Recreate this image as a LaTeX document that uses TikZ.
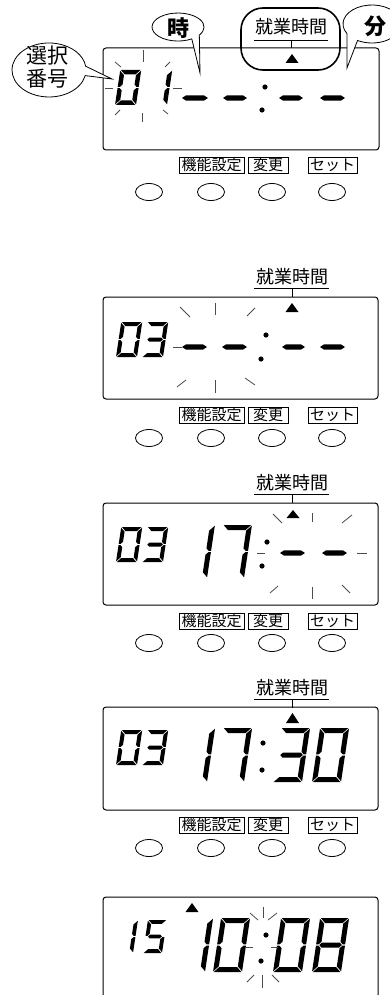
\documentclass[tikz,border=0pt]{standalone}
\usepackage{fontspec}
\newfontfamily\jp{Noto Sans CJK JP}
\usetikzlibrary{shapes.geometric}
\tikzset{
  lcd/.style={draw=black,line width=1pt,rounded corners=3pt},
  ray/.style={draw=black!70,line width=0.8pt},
  seg/.style={fill=black},
  lbl/.style={draw=black,line width=0.7pt,font=\jp\fontsize{15}{15}\selectfont,inner xsep=1pt,inner ysep=0.5pt,minimum height=16pt},
  btn/.style={draw=black,line width=0.8pt,ellipse,minimum width=27pt,minimum height=17pt,inner sep=0pt},
  hdr/.style={font=\jp\fontsize{18}{18}\selectfont,inner sep=0pt},
  bub/.style={draw=black,fill=white,line width=0.8pt},
  tri/.style={fill=black},
  cdot/.style={fill=black}
}
\def\gp{0.7}
\newcommand\sgA{\fill[seg] (\gp,-\dH) -- ({\dW-\gp},-\dH) -- ({\dW-\dT-\gp},{-\dH+\dT}) -- ({\dT+\gp},{-\dH+\dT}) -- cycle;}
\newcommand\sgB{\fill[seg] (\dW,{-\dH+\gp}) -- ({\dW-\dT},{-\dH+\dT+\gp}) -- ({\dW-\dT},{-\dHh-\dTh-\gp}) -- ({\dW-\dTh},{-\dHh-\gp}) -- (\dW,{-\dHh-\gp}) -- cycle;}
\newcommand\sgC{\fill[seg] (\dW,{-\dHh+\gp}) -- ({\dW-\dTh},{-\dHh+\gp}) -- ({\dW-\dT},{-\dHh+\dTh+\gp}) -- ({\dW-\dT},{-\dT-\gp}) -- (\dW,-\gp) -- cycle;}
\newcommand\sgD{\fill[seg] (\gp,0) -- ({\dT+\gp},-\dT) -- ({\dW-\dT-\gp},-\dT) -- ({\dW-\gp},0) -- cycle;}
\newcommand\sgE{\fill[seg] (0,{-\dHh+\gp}) -- (\dTh,{-\dHh+\gp}) -- (\dT,{-\dHh+\dTh+\gp}) -- (\dT,{-\dT-\gp}) -- (0,-\gp) -- cycle;}
\newcommand\sgF{\fill[seg] (0,{-\dH+\gp}) -- (\dT,{-\dH+\dT+\gp}) -- (\dT,{-\dHh-\dTh-\gp}) -- (\dTh,{-\dHh-\gp}) -- (0,{-\dHh-\gp}) -- cycle;}
\newcommand\sgG{\fill[seg] ({\dTh+\gp},-\dHh) -- ({\dT+\gp},{-\dHh-\dTh}) -- ({\dW-\dT-\gp},{-\dHh-\dTh}) -- ({\dW-\dTh-\gp},-\dHh) -- ({\dW-\dT-\gp},{-\dHh+\dTh}) -- ({\dT+\gp},{-\dHh+\dTh}) -- cycle;}
\newcommand\dgt[6]{\begin{scope}[shift={(#1,#2)},xslant=0.15]\def\dW{#3}\def\dH{#4}\def\dT{#5}\pgfmathsetmacro\dHh{#4/2}\pgfmathsetmacro\dTh{#5/2}#6\end{scope}}
\newcommand\dsh[3]{\fill[seg] (#1,#3) -- ({#1+4},{#3-2.6}) -- ({#2-4},{#3-2.6}) -- (#2,#3) -- ({#2-4},{#3+2.6}) -- ({#1+4},{#3+2.6}) -- cycle;}
\newcommand\trisym[3]{\fill[tri] ({#1-6.5},#2) -- ({#1+6.5},#2) -- (#1,#3) -- cycle;}
\newcommand\btnrow[3]{%
  \node[lbl,minimum width=65pt] (#3k) at (211.5,#1) {機能設定};
  \node[lbl,minimum width=40pt] (#3h) at (268,#1) {変更};
  \node[lbl,minimum width=49pt] (#3s) at (332.5,#1) {セット};
  \node[btn] (#3b1) at (149,#2) {};
  \node[btn] (#3b2) at (211,#2) {};
  \node[btn] (#3b3) at (272,#2) {};
  \node[btn] (#3b4) at (332,#2) {};}
\newcommand\header[2]{%
  \node[hdr] (#2) at (292,#1) {就業時間};
  \coordinate (#2l) at (254,{#1+11});
  \coordinate (#2r) at (329,{#1+11});
  \coordinate (#2m) at (292,{#1+11});
  \coordinate (#2t) at (292,{#1+20});
  \draw[line width=0.8pt] (#2l) -- (#2r);
  \draw[line width=0.8pt] (#2m) -- (#2t);}
\begin{document}
\begin{tikzpicture}[x=1pt,y=-1pt]
\clip (0,0) rectangle (390,995);
\fill[white] (0,0) rectangle (390,995);

% ---------------- Panel 1
\draw[lcd] (103,48) rectangle (379,150);
\dgt{115}{105}{21}{35}{4.5}{\sgA\sgB\sgC\sgD\sgE\sgF}
\dgt{146}{105}{21}{35}{4.5}{\sgB\sgC}
\dsh{182}{208}{98}\dsh{223}{247}{98}\dsh{279}{303}{98}\dsh{320}{345}{98}
\fill[cdot] (265,87) circle (2.6);
\fill[cdot] (262,110) circle (2.6);
\draw[ray] (143,50) -- (143,62);
\draw[ray] (142,113) -- (142,122);
\draw[ray] (105,88) -- (113,88);
\draw[ray] (173,88) -- (182,88);
\draw[ray] (115,62) -- (121,67);
\draw[ray] (165,67) -- (170,62);
\draw[ray] (115,115) -- (120,110);
\draw[ray] (163,110) -- (168,114);
\trisym{292}{63}{54}
% bubbles
\filldraw[bub] (112,79) -- (85.2,75.6) arc[start angle=12,end angle=352,x radius=37,y radius=27] -- cycle;
\filldraw[bub] (200,73) -- (191.8,38.9) arc[start angle=58,end angle=395,x radius=26,y radius=14] -- cycle;
\filldraw[bub] (347,68) -- (346.9,33.5) arc[start angle=150,end angle=480,x radius=29,y radius=19] -- cycle;
\draw[line width=1.6pt,rounded corners=22pt] (241,8) rectangle (340,70);
\node[font=\jp\fontsize{21}{23}\selectfont,align=center,inner sep=0pt] (sel) at (48,67) {選択\\番号};
\node[font=\jp\bfseries\fontsize{22}{22}\selectfont,inner sep=0pt] (ji) at (178,28) {時};
\node[font=\jp\bfseries\fontsize{22}{22}\selectfont,inner sep=0pt] (fun) at (375,26) {分};
\node[hdr] (hd1) at (291,27) {就業時間};
\coordinate (hd1l) at (254,40); \coordinate (hd1r) at (328,40);
\coordinate (hd1m) at (291,40); \coordinate (hd1t) at (291,48);
\draw[line width=0.8pt] (hd1l) -- (hd1r);
\draw[line width=0.8pt] (hd1m) -- (hd1t);
\btnrow{165}{192}{p1}

% ---------------- Panel 2
\header{277}{hd2}
\draw[lcd] (103,297) rectangle (378,399);
\dgt{116}{357}{21}{35}{4}{\sgA\sgB\sgC\sgD\sgE\sgF}
\dgt{142}{357}{21}{35}{4}{\sgA\sgB\sgC\sgD\sgG}
\dsh{182}{207}{347}\dsh{222}{247}{347}\dsh{282}{305}{347}\dsh{320}{345}{347}
\fill[cdot] (266,335) circle (2.6);
\fill[cdot] (261,359) circle (2.6);
\trisym{292}{312}{303}
\draw[ray] (215,303) -- (215,315);
\draw[ray] (215,380) -- (215,393);
\draw[ray] (173,347) -- (182,347);
\draw[ray] (180,307) -- (190,317);
\draw[ray] (247,316) -- (255,308);
\draw[ray] (177,387) -- (186,380);
\draw[ray] (245,378) -- (255,385);
\btnrow{415}{438}{p2}

% ---------------- Panel 3
\header{483}{hd3}
\draw[lcd] (103,503) rectangle (378,605);
\dgt{116}{562}{21}{35}{4}{\sgA\sgB\sgC\sgD\sgE\sgF}
\dgt{142}{562}{21}{35}{4}{\sgA\sgB\sgC\sgD\sgG}
\dgt{178}{578}{29}{53}{5}{\sgB\sgC}
\dgt{215}{578}{29}{53}{5}{\sgA\sgB\sgC}
\fill[cdot] (267,542) circle (2.6);
\fill[cdot] (262,566) circle (2.6);
\dsh{280}{305}{553}\dsh{322}{347}{553}
\trisym{293}{518}{510}
\draw[ray] (312,513) -- (312,522);
\draw[ray] (312,587) -- (312,599);
\draw[ray] (257,553) -- (265,553);
\draw[ray] (357,553) -- (367,553);
\draw[ray] (273,514) -- (282,523);
\draw[ray] (342,523) -- (352,515);
\draw[ray] (270,593) -- (278,586);
\draw[ray] (342,585) -- (350,593);
\btnrow{621}{643}{p3}

% ---------------- Panel 4
\header{688}{hd4}
\draw[lcd] (103,707) rectangle (378,810);
\dgt{116}{765}{21}{35}{4}{\sgA\sgB\sgC\sgD\sgE\sgF}
\dgt{142}{765}{21}{35}{4}{\sgA\sgB\sgC\sgD\sgG}
\dgt{178}{782}{29}{54}{5}{\sgB\sgC}
\dgt{215}{782}{29}{54}{5}{\sgA\sgB\sgC}
\dgt{273}{782}{29}{54}{5}{\sgA\sgB\sgC\sgD\sgG}
\dgt{312}{782}{29}{54}{5}{\sgA\sgB\sgC\sgD\sgE\sgF}
\fill[cdot] (263,743) circle (2.6);
\fill[cdot] (262,770) circle (2.6);
\trisym{292.5}{723}{713}
\btnrow{825}{848}{p4}

% ---------------- Panel 5
\draw[lcd] (103,897) rectangle (378,1010);
\trisym{192}{912}{903}
\dgt{114}{953}{19}{33}{3.8}{\sgB\sgC}
\dgt{143}{953}{19}{33}{3.8}{\sgA\sgF\sgG\sgC\sgD}
\dgt{176}{972}{29}{54}{5}{\sgB\sgC}
\dgt{213}{972}{29}{54}{5}{\sgA\sgB\sgC\sgD\sgE\sgF}
\dgt{273}{972}{29}{54}{5}{\sgA\sgB\sgC\sgD\sgE\sgF}
\dgt{312}{972}{29}{54}{5}{\sgA\sgB\sgC\sgD\sgE\sgF\sgG}
\fill[cdot] (266,935) circle (2.6);
\fill[cdot] (261,961) circle (2.6);
\draw[ray] (263,907) -- (263,918);
\draw[ray] (262,975) -- (262,988);
\draw[ray] (250,913) -- (258,920);
\draw[ray] (268,920) -- (277,913);
\draw[ray] (247,982) -- (254,975);
\draw[ray] (272,975) -- (279,982);
\draw[ray] (246,947) -- (253,947);
\draw[ray] (271,947) -- (278,947);
\end{tikzpicture}
\end{document}
